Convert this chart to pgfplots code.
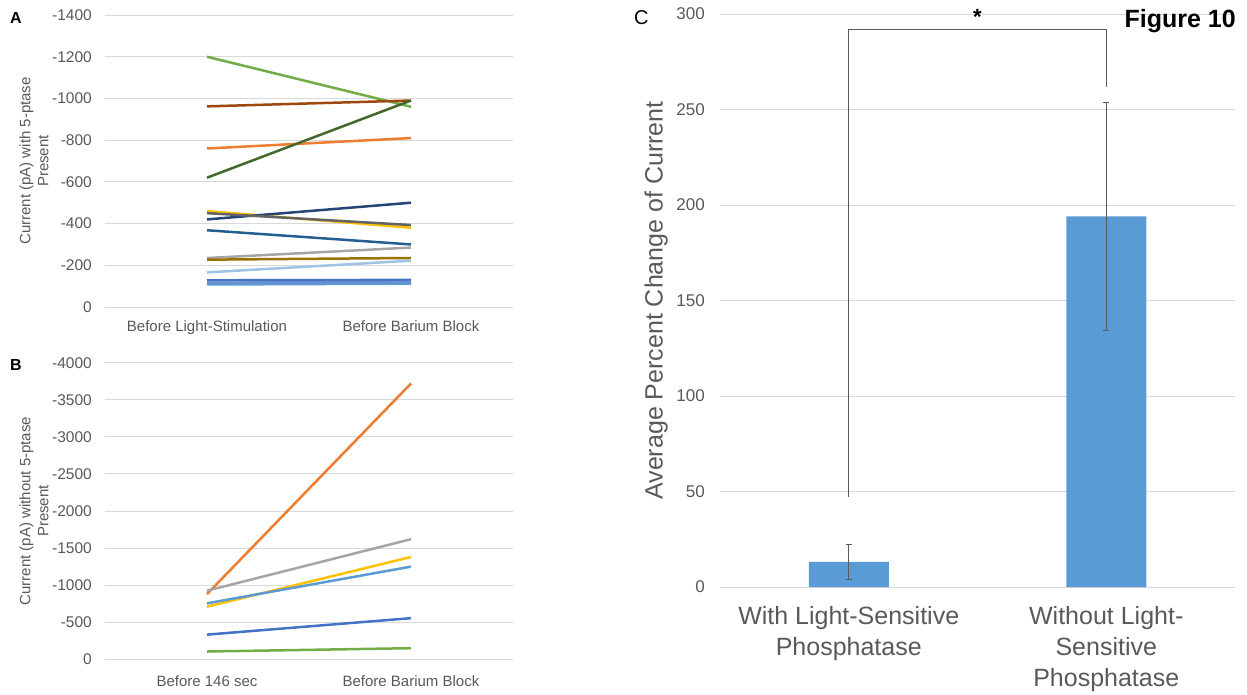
\documentclass[border=0pt]{standalone}
\usepackage{pgfplots}
\pgfplotsset{compat=1.18}
\usepackage{fontspec}
\setmainfont{Liberation Sans}
\definecolor{txt}{HTML}{595959}
\definecolor{gridc}{HTML}{D9D9D9}
\definecolor{errc}{HTML}{595959}
\definecolor{barc}{HTML}{5B9BD5}
\definecolor{cA}{HTML}{4472C4}
\definecolor{cB}{HTML}{ED7D31}
\definecolor{cC}{HTML}{A5A5A5}
\definecolor{cD}{HTML}{FFC000}
\definecolor{cE}{HTML}{5B9BD5}
\definecolor{cF}{HTML}{70AD47}
\definecolor{cG}{HTML}{264478}
\definecolor{cH}{HTML}{9E480E}
\definecolor{cI}{HTML}{636363}
\definecolor{cJ}{HTML}{997300}
\definecolor{cK}{HTML}{255E91}
\definecolor{cL}{HTML}{43682B}
\definecolor{cM}{HTML}{698ED0}
\definecolor{cN}{HTML}{9DC3E6}
\pgfplotsset{
  excel/.style={scale only axis, axis line style={draw=none}, major tick length=0pt,
    ymajorgrids, major grid style={color=gridc, line width=0.9pt},
    tick label style={text=txt}, label style={text=txt}, clip=false},
  panelAB/.style={excel, width=408pt, xmin=-0.5, xmax=1.5, xtick={0,1}, y dir=reverse,
    yticklabel style={font=\fontsize{15.5}{18}\selectfont, inner sep=0pt, anchor=east, xshift=-13pt},
    xticklabel style={font=\fontsize{15}{18}\selectfont, inner sep=0pt, anchor=north},
    ylabel style={align=center, font=\fontsize{15}{18}\selectfont, at={(axis description cs:-0.174,0.5)}, anchor=center}},
  ln/.style={line width=2.5pt, no marks}
}
\begin{document}
\begin{tikzpicture}[x=1pt,y=1pt]
\useasboundingbox (0,0) rectangle (1247,-694);
% Panel A
\begin{axis}[panelAB, at={(105pt,-15pt)}, anchor=north west, height=292pt,
  ymin=-1400, ymax=0, ytick={-1400,-1200,-1000,-800,-600,-400,-200,0},
  yticklabels={-1400,-1200,-1000,-800,-600,-400,-200,0},
  xticklabels={Before Light-Stimulation, Before Barium Block},
  xticklabel style={yshift=-13pt},
  ylabel={Current (pA) with 5-ptase\\Present}]
\addplot[ln, cA] coordinates {(0,-128) (1,-130)};
\addplot[ln, cB] coordinates {(0,-760) (1,-810)};
\addplot[ln, cC] coordinates {(0,-235) (1,-285)};
\addplot[ln, cD] coordinates {(0,-460) (1,-380)};
\addplot[ln, cE] coordinates {(0,-108) (1,-112)};
\addplot[ln, cF] coordinates {(0,-1200) (1,-960)};
\addplot[ln, cG] coordinates {(0,-420) (1,-500)};
\addplot[ln, cH] coordinates {(0,-962) (1,-990)};
\addplot[ln, cI] coordinates {(0,-450) (1,-393)};
\addplot[ln, cJ] coordinates {(0,-227) (1,-235)};
\addplot[ln, cK] coordinates {(0,-368) (1,-300)};
\addplot[ln, cL] coordinates {(0,-620) (1,-990)};
\addplot[ln, cM] coordinates {(0,-117) (1,-120)};
\addplot[ln, cN] coordinates {(0,-166) (1,-222)};
\end{axis}
% Panel B
\begin{axis}[panelAB, at={(105pt,-362.7pt)}, anchor=north west, height=296.6pt,
  ymin=-4000, ymax=0, ytick={-4000,-3500,-3000,-2500,-2000,-1500,-1000,-500,0},
  yticklabels={-4000,-3500,-3000,-2500,-2000,-1500,-1000,-500,0},
  xticklabels={Before 146 sec, Before Barium Block},
  xticklabel style={yshift=-16.5pt},
  ylabel={Current (pA) without 5-ptase\\Present}]
\addplot[ln, cA] coordinates {(0,-333) (1,-555)};
\addplot[ln, cB] coordinates {(0,-880) (1,-3720)};
\addplot[ln, cC] coordinates {(0,-925) (1,-1620)};
\addplot[ln, cD] coordinates {(0,-710) (1,-1380)};
\addplot[ln, cE] coordinates {(0,-755) (1,-1250)};
\addplot[ln, cF] coordinates {(0,-105) (1,-150)};
\end{axis}
% Panel C
\begin{axis}[excel, at={(720pt,-14pt)}, anchor=north west, width=515pt, height=573pt,
  xmin=-0.5, xmax=1.5, ymin=0, ymax=300, ytick={0,50,100,150,200,250,300},
  yticklabels={0,50,100,150,200,250,300},
  xtick={0,1},
  xticklabels={{With Light-Sensitive\\Phosphatase},{Without Light-\\Sensitive\\Phosphatase}},
  yticklabel style={font=\fontsize{17}{20}\selectfont, inner sep=0pt, anchor=east, xshift=-15pt},
  xticklabel style={font=\fontsize{25}{31}\selectfont, align=center, inner sep=0pt, anchor=north, yshift=-19.5pt},
  ylabel={Average Percent Change of Current},
  ylabel style={font=\fontsize{25}{30}\selectfont, at={(axis description cs:-0.124,0.5)}, anchor=center}]
\addplot[ybar, bar width=80pt, fill=barc, draw=none,
  error bars/.cd, y dir=both, y explicit, error mark=|,
  error bar style={line width=0.8pt, color=errc},
  error mark options={line width=0.8pt, color=errc, mark size=3pt}]
  coordinates {(0,13.2) +- (0,9.3) (1,194) +- (0,59.5)};
\addplot[errc, line width=1pt, no marks] coordinates {(0,47) (0,292) (1,292) (1,262)};
\node[font=\bfseries\fontsize{22}{22}\selectfont, text=black] at (axis cs:0.5,298.5) {*};
\end{axis}
\node[anchor=north west, inner sep=0pt, font=\bfseries\fontsize{16}{16}\selectfont] at (10,-12) {A};
\node[anchor=north west, inner sep=0pt, font=\bfseries\fontsize{16}{16}\selectfont] at (10,-359) {B};
\node[anchor=north west, inner sep=0pt, font=\fontsize{20}{20}\selectfont] at (634,-10) {C};
\node[anchor=north east, inner sep=0pt, font=\bfseries\fontsize{25}{25}\selectfont] at (1236,-9) {Figure 10};
\end{tikzpicture}
\end{document}
